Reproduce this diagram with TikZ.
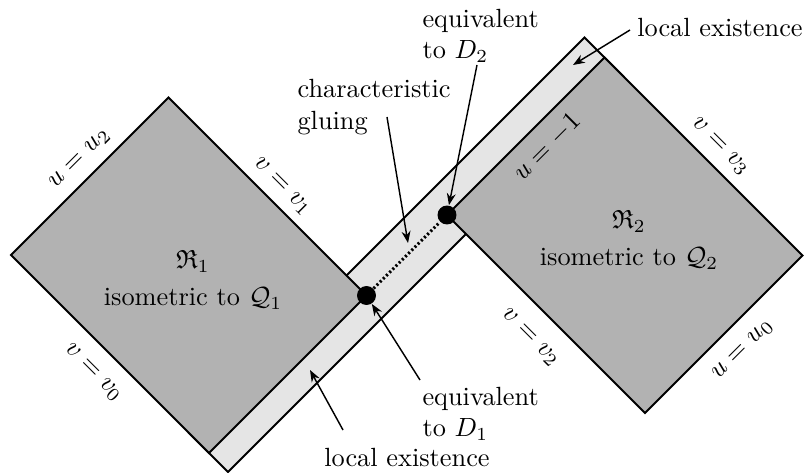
\documentclass[tikz,border=0pt]{standalone}
\usepackage{amssymb}
\usetikzlibrary{arrows.meta}
\begin{document}
\begin{tikzpicture}[x=0.38pt,y=-0.38pt,
  region/.style={fill=black!30,draw=black,line width=0.8pt,line join=miter},
  stripbox/.style={fill=black!10,draw=black,line width=0.8pt},
  lbl/.style={inner sep=0pt},
  note/.style={inner sep=0pt,align=left},
  pointer/.style={-{Stealth[length=4.5pt,width=3.4pt]},line width=0.55pt},
  dot/.style={circle,fill=black,inner sep=0pt,minimum size=7.2pt}]
\useasboundingbox (0,0) rectangle (806,473);
% strip of local existence
\draw[stripbox] (189,433) -- (228,472) -- (623.5,76.5) -- (584.5,37.5) -- cycle;
% regions
\draw[region] (11,255) -- (168.5,97.5) -- (366.5,295.5) -- (209,453) -- cycle;
\draw[region] (447,215) -- (604.5,57.5) -- (802.5,255.5) -- (645,413) -- cycle;
% dots and gluing
\node[dot] (d1) at (366.5,295.5) {};
\node[dot] (d2) at (447,215) {};
\draw[line width=1.2pt,dash pattern=on 0.8pt off 0.9pt] (d1) -- (d2);
% edge labels
\node[lbl,rotate=45] (uu2) at (80,159) {$u=u_2$};
\node[lbl,rotate=-45] (vv1) at (282,187) {$v=v_1$};
\node[lbl,rotate=-45] (vv0) at (93,373) {$v=v_0$};
\node[lbl,rotate=45] (um1) at (547,147) {$u=-1$};
\node[lbl,rotate=-45] (vv3) at (720,147) {$v=v_3$};
\node[lbl,rotate=-45] (vv2) at (530,338) {$v=v_2$};
\node[lbl,rotate=45] (uu0) at (743,350) {$u=u_0$};
% region texts
\node[align=center,inner sep=0pt] (r1) at (193,280) {$\mathfrak{R}_1$\\[2pt] isometric to $\mathcal{Q}_1$};
\node[align=center,inner sep=0pt] (r2) at (629,240) {$\mathfrak{R}_2$\\[2pt] isometric to $\mathcal{Q}_2$};
% notes
\node[note,anchor=west] (cg) at (297,107) {characteristic\\gluing};
\node[note,anchor=west] (e2) at (422,36) {equivalent\\to $D_2$};
\node[note,anchor=west] (e1) at (422,414) {equivalent\\to $D_1$};
\node[lbl] (le1) at (407,458) {local existence};
\node[lbl] (le2) at (720,28) {local existence};
% arrows
\coordinate (cgs) at (387,117);
\coordinate (cgt) at (408,243);
\coordinate (e2s) at (477,65);
\coordinate (e1s) at (420,380);
\coordinate (l1s) at (343,430);
\coordinate (l1t) at (310,370);
\coordinate (l2s) at (630,30);
\coordinate (l2t) at (573,65);
\draw[pointer] (cgs) -- (cgt);
\draw[pointer] (e2s) -- (d2);
\draw[pointer] (e1s) -- (d1);
\draw[pointer] (l1s) -- (l1t);
\draw[pointer] (l2s) -- (l2t);
\end{tikzpicture}
\end{document}
